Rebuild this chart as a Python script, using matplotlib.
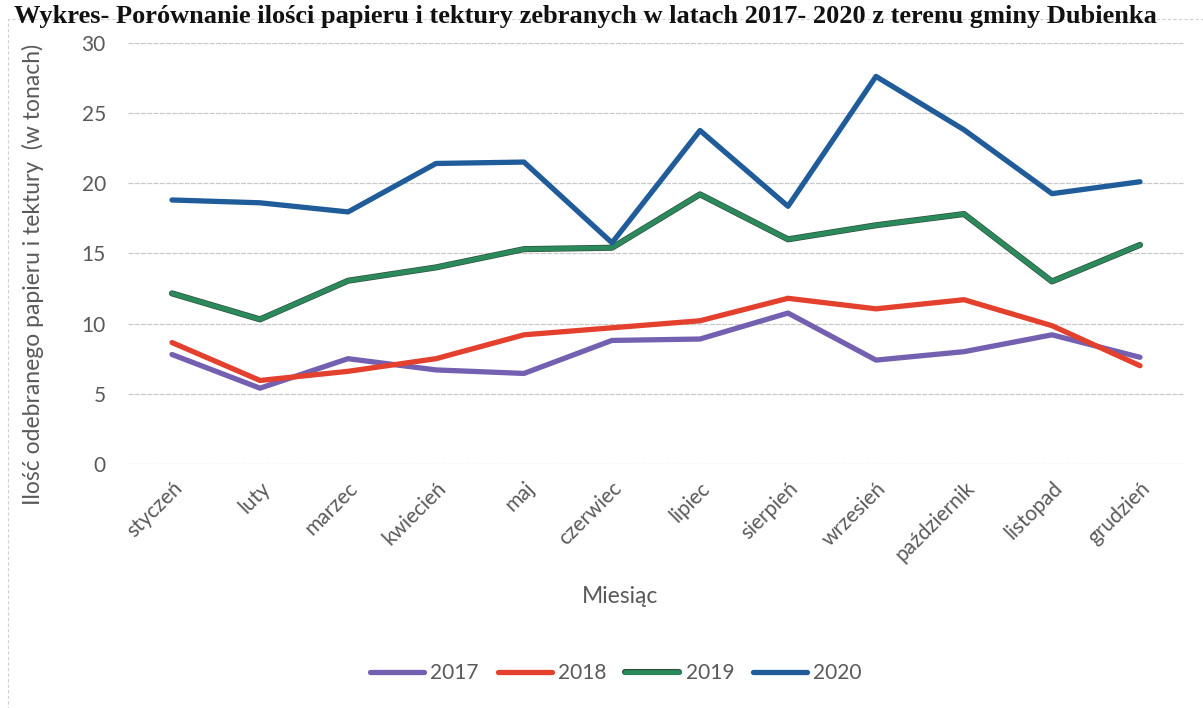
import matplotlib
matplotlib.use('Agg')
import matplotlib.pyplot as plt
import matplotlib.patheffects as pe
from matplotlib.patches import Rectangle

months = ['styczeń', 'luty', 'marzec', 'kwiecień', 'maj', 'czerwiec',
          'lipiec', 'sierpień', 'wrzesień', 'październik', 'listopad', 'grudzień']
y2017 = [7.8, 5.4, 7.5, 6.7, 6.45, 8.8, 8.9, 10.75, 7.4, 8.0, 9.2, 7.6]
y2018 = [8.65, 5.95, 6.6, 7.5, 9.2, 9.7, 10.2, 11.8, 11.05, 11.7, 9.85, 7.0]
y2019 = [12.15, 10.3, 13.05, 14.0, 15.3, 15.4, 19.2, 16.0, 17.0, 17.8, 13.0, 15.6]
y2020 = [18.8, 18.6, 17.95, 21.4, 21.5, 15.75, 23.75, 18.35, 27.6, 23.8, 19.25, 20.1]
yticks = [0, 5, 10, 15, 20, 25, 30]

plt.rcParams['font.family'] = ['Lato', 'DejaVu Sans']
txt = '#595959'

fig = plt.figure(figsize=(12.03, 7.08), dpi=100)
ax = fig.add_axes([0.1064, 0.3446, 0.8778, 0.5951])

x = range(len(months))
ax.plot(x, y2017, color='#7460b0', lw=3.8, label='2017', solid_capstyle='round')
ax.plot(x, y2018, color='#e3402d', lw=3.8, label='2018', solid_capstyle='round')
ax.plot(x, y2019, color='#2b8a5c', lw=3.4, label='2019', solid_capstyle='round',
        path_effects=[pe.Stroke(linewidth=4.4, foreground='#2f4f3f'), pe.Normal()])
ax.plot(x, y2020, color='#1f5c99', lw=3.8, label='2020', solid_capstyle='round')

ax.set_xlim(-0.5, 11.5)
ax.set_ylim(0, 30)
ax.set_yticks(yticks)
ax.set_xticks(list(x))
ax.set_xticklabels(months, rotation=45, ha='right', rotation_mode='anchor',
                   fontsize=15, color=txt)
ax.tick_params(axis='x', length=0, pad=10)
ax.tick_params(axis='y', length=0, pad=16, labelsize=15, labelcolor=txt)
ax.grid(axis='y', color='#c9c9c9', lw=0.9, ls=(0, (4, 1)))
ax.set_axisbelow(True)
for s in ax.spines.values():
    s.set_visible(False)

ax.set_ylabel('Ilość odebranego papieru i tektury  (w tonach)', fontsize=16.5,
              color=txt)
ax.yaxis.set_label_coords(-0.08, 0.45)
ax.set_xlabel('Miesiąc', fontsize=16.5, color=txt)
ax.xaxis.set_label_coords(0.466, -0.29)

ax.legend(loc='center', bbox_to_anchor=(0.462, -0.496), ncol=4, frameon=False,
          fontsize=15, handlelength=2.6, handletextpad=0.3, columnspacing=0.9,
          labelcolor=txt)

fig.text(0.012, 0.968, 'Wykres- Porównanie ilości papieru i tektury zebranych w latach '
         '2017- 2020 z terenu gminy Dubienka', family='Liberation Serif',
         fontweight='bold', fontsize=19, color='#111111', va='baseline')

fig.patches.append(Rectangle((0.007, -0.1), 1.1, 1.073, transform=fig.transFigure,
                             fill=False, ec='#d0d0d0', lw=0.8, ls=(0, (3, 2))))

fig.savefig('out.png', dpi=100)
